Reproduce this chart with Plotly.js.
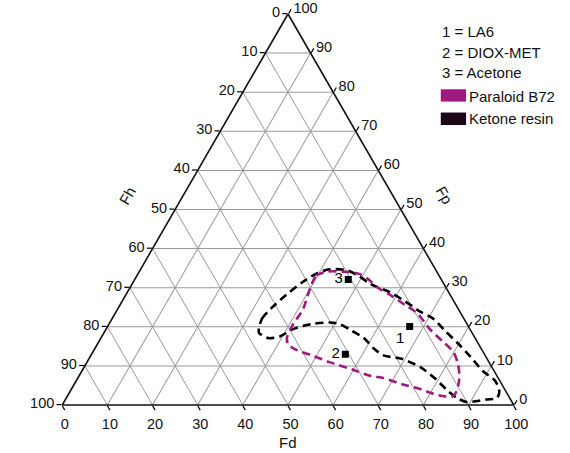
<!DOCTYPE html>
<html>
<head>
<meta charset="utf-8">
<script src="https://cdn.plot.ly/plotly-3.0.1.min.js"></script>
<style>html,body{margin:0;padding:0;background:#fff;}#chart{width:570px;height:453px;}</style>
</head>
<body>
<div id="chart"></div>
<script>
// Tick positions and labels (labels run opposite to Plotly's default direction)
const tickValues = [0, 10, 20, 30, 40, 50, 60, 70, 80, 90, 100];
const tickLabels = ['100', '90', '80', '70', '60', '50', '40', '30', '20', '10', '0'];

// Solvents (Fd, Fp in %; Fh = 100 - Fd - Fp)
const pointLabels = ['1', '2', '3'];
const pointFd = [66.9, 56.2, 47.3];
const pointFp = [20.1, 13.0, 32.1];

// Paraloid B72 solubility region
const paraloidFd = [39.8, 39.7, 41.6, 45.1, 48.8, 51.5, 54.7, 59.2, 63.1, 67.0, 71.7, 76.1, 79.8, 82.4, 84.5, 85.6, 85.3, 83.1, 80.7, 76.6, 72.6, 67.7, 64.7, 59.7, 53.9, 48.9, 44.8, 42.4, 41.2, 40.8, 41.1, 40.2, 39.8];
const paraloidFp = [30.9, 33.1, 34.1, 34.1, 33.6, 32.3, 30.1, 27.8, 25.6, 23.4, 19.4, 16.3, 13.6, 10.5, 6.9, 3.4, 2.1, 2.3, 2.9, 4.3, 5.3, 6.9, 7.4, 9.1, 10.9, 12.7, 14.1, 15.4, 17.1, 20.7, 24.3, 28.7, 30.9];

// Ketone resin solubility region
const ketoneFd = [33.7, 33.2, 33.9, 35.6, 37.5, 39.7, 42.0, 45.6, 49.0, 52.9, 58.0, 62.7, 67.5, 71.1, 75.4, 79.7, 84.3, 88.8, 92.9, 95.1, 95.4, 93.2, 90.7, 89.4, 86.9, 83.9, 79.6, 74.6, 69.3, 64.8, 61.7, 58.3, 54.8, 51.1, 48.8, 44.9, 41.4, 39.5, 37.1, 34.3, 33.7];
const ketoneFp = [19.8, 22.1, 24.7, 28.3, 31.4, 33.8, 34.7, 34.5, 33.1, 30.9, 28.9, 26.5, 23.8, 22.1, 18.9, 15.8, 12.3, 8.7, 6.1, 3.4, 1.8, 1.4, 0.9, 0.7, 1.6, 3.4, 6.5, 9.6, 11.8, 12.7, 14.5, 17.1, 18.9, 20.7, 21.1, 20.7, 19.4, 17.6, 17.1, 18.5, 19.8];

const legendNotes = ['1 = LA6', '2 = DIOX-MET', '3 = Acetone'];
const legendSeries = ['Paraloid B72', 'Ketone resin'];
const magenta = '#a0197e';
const ketoneSwatch = '#1c0514';
const FONT = 'Liberation Sans, Arial, sans-serif';

const traces = [
  {
    type: 'scatterternary', mode: 'lines', name: legendSeries[1],
    a: ketoneFp, c: ketoneFd,
    line: {color: '#000', width: 2.6, dash: '8px,5px', shape: 'spline', smoothing: 0.8},
    showlegend: false, hoverinfo: 'skip'
  },
  {
    type: 'scatterternary', mode: 'lines', name: legendSeries[0],
    a: paraloidFp, c: paraloidFd,
    line: {color: magenta, width: 2.6, dash: '8px,5px', shape: 'spline', smoothing: 0.8},
    showlegend: false, hoverinfo: 'skip'
  },
  {
    type: 'scatterternary', mode: 'markers+text',
    a: pointFp, c: pointFd,
    text: pointLabels,
    textposition: ['bottom left', 'middle left', 'middle left'],
    textfont: {family: FONT, size: 15, color: '#000'},
    marker: {symbol: 'square', size: 7, color: '#000'},
    showlegend: false, hoverinfo: 'skip'
  }
];

function axis() {
  return {
    tickmode: 'array', tickvals: tickValues, ticktext: tickLabels,
    ticks: 'outside', ticklen: 5, tickwidth: 1.2, tickcolor: '#000',
    showline: true, linecolor: '#111', linewidth: 1.6,
    showgrid: true, gridcolor: '#9a9a9a', gridwidth: 1,
    tickfont: {family: FONT, size: 14.5, color: '#111'},
    title: {text: ''}
  };
}

const annotations = [];
legendNotes.forEach((t, i) => {
  annotations.push({xref: 'paper', yref: 'paper', x: 0.836, y: [0.955, 0.902, 0.850][i],
    xanchor: 'left', yanchor: 'middle', text: t, showarrow: false,
    font: {family: FONT, size: 15, color: '#111'}});
});
legendSeries.forEach((t, i) => {
  annotations.push({xref: 'paper', yref: 'paper', x: 0.896, y: [0.790, 0.733][i],
    xanchor: 'left', yanchor: 'middle', text: t, showarrow: false,
    font: {family: FONT, size: 15, color: '#111'}});
});
annotations.push({xref: 'paper', yref: 'paper', x: 0.144, y: 0.537, xanchor: 'center', yanchor: 'middle',
  text: 'Fh', showarrow: false, textangle: -60, font: {family: FONT, size: 15, color: '#111'}});
annotations.push({xref: 'paper', yref: 'paper', x: 0.847, y: 0.537, xanchor: 'center', yanchor: 'middle',
  text: 'Fp', showarrow: false, textangle: 60, font: {family: FONT, size: 15, color: '#111'}});
annotations.push({xref: 'paper', yref: 'paper', x: 0.5, y: -0.097, xanchor: 'center', yanchor: 'middle',
  text: 'Fd', showarrow: false, font: {family: FONT, size: 15, color: '#111'}});

const shapes = [
  {type: 'rect', xref: 'paper', yref: 'paper', x0: 0.838, x1: 0.894, y0: 0.776, y1: 0.8075,
    fillcolor: magenta, line: {width: 0}},
  {type: 'rect', xref: 'paper', yref: 'paper', x0: 0.838, x1: 0.894, y0: 0.716, y1: 0.748,
    fillcolor: ketoneSwatch, line: {width: 0}}
];

const layout = {
  width: 570, height: 453,
  margin: {l: 62, r: 56, t: 14, b: 48},
  paper_bgcolor: '#fff',
  font: {family: FONT, size: 14, color: '#111'},
  showlegend: false,
  hovermode: false,
  ternary: {
    sum: 100,
    bgcolor: '#fff',
    domain: {x: [0, 1], y: [0, 1]},
    aaxis: axis(),
    baxis: axis(),
    caxis: axis()
  },
  annotations: annotations,
  shapes: shapes
};

Plotly.newPlot('chart', traces, layout, {displayModeBar: false, staticPlot: true});
</script>
</body>
</html>
